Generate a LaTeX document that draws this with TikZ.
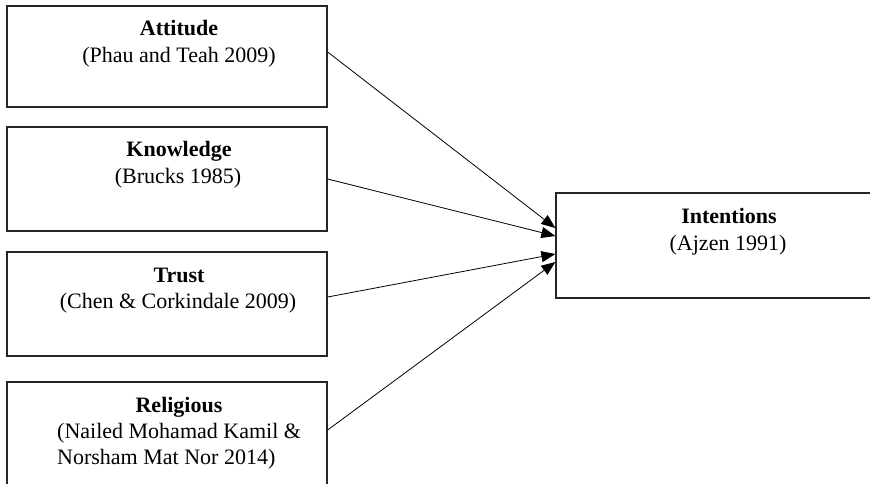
\documentclass[tikz,border=0pt]{standalone}
\usepackage{fontspec}
\setmainfont{Liberation Serif}
\usetikzlibrary{arrows.meta}
\begin{document}
\begin{tikzpicture}[x=1pt,y=-1pt,
  box/.style={draw=black!85, line width=1.3pt, minimum width=320pt, inner sep=0pt},
  lbl/.style={anchor=base, inner sep=0pt, font=\fontsize{22}{26}\selectfont},
  ttl/.style={lbl, font=\fontsize{22}{26}\selectfont\bfseries},
  conn/.style={line width=0.8pt, -{Triangle[length=14pt,width=11pt]}}]
\useasboundingbox (0,0) rectangle (870,484);
\clip (0,0) rectangle (870,484);
\fill[white] (0,0) rectangle (870,484);
% left boxes
\node[box, minimum height=101pt] (b1) at (167,56.5) {};
\node[box, minimum height=104pt] (b2) at (167,179) {};
\node[box, minimum height=104pt] (b3) at (167,304) {};
\node[box, minimum height=104pt] (b4) at (167,434) {};
% right box
\node[box, minimum width=324pt, minimum height=105pt] (c) at (718,245.5) {};
% texts
\node[ttl] (t1) at (179,36) {Attitude};
\node[lbl] (s1) at (179,63) {(Phau and Teah 2009)};
\node[ttl] (t2) at (179,157) {Knowledge};
\node[lbl] (s2) at (178,183) {(Brucks 1985)};
\node[ttl] (t3) at (179,282) {Trust};
\node[lbl] (s3) at (178,308) {(Chen \& Corkindale 2009)};
\node[ttl] (t4) at (179,412) {Religious};
\node[lbl, anchor=base west] (s4) at (57,438) {(Nailed Mohamad Kamil \&};
\node[lbl, anchor=base west] (s5) at (57,464) {Norsham Mat Nor 2014)};
\node[ttl] (tc) at (729,223) {Intentions};
\node[lbl] (sc) at (728,250) {(Ajzen 1991)};
% connectors
\draw[conn] ([yshift=4.5pt]b1.east) -- ([yshift=17.5pt]c.west);
\draw[conn] (b2.east) -- ([yshift=9.5pt]c.west);
\draw[conn] ([yshift=7pt]b3.east) -- ([yshift=-8.5pt]c.west);
\draw[conn] ([yshift=4pt]b4.east) -- ([yshift=-16.5pt]c.west);
\end{tikzpicture}
\end{document}
